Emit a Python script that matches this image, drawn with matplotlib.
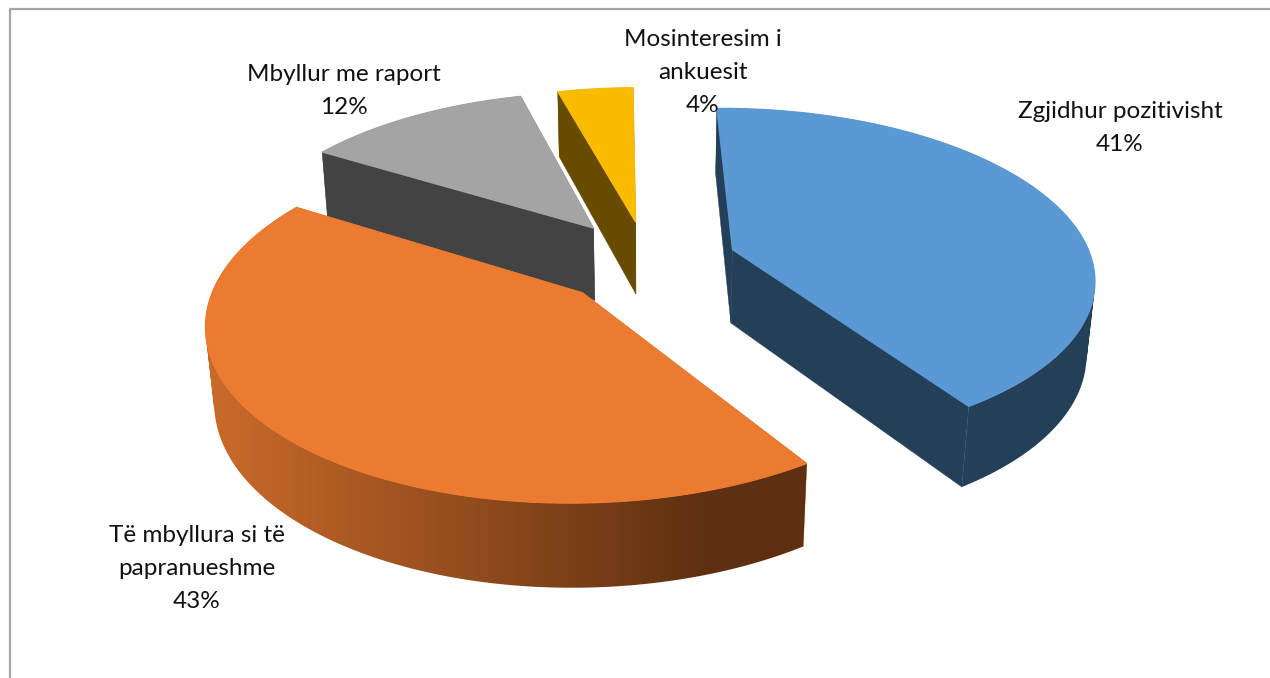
import numpy as np, matplotlib
matplotlib.use('Agg')
import matplotlib.pyplot as plt
from matplotlib.colors import to_rgb
from matplotlib.path import Path
from matplotlib.patches import PathPatch

categories = ['Zgjidhur pozitivisht', 'Të mbyllura si të\npapranueshme', 'Mbyllur me raport', 'Mosinteresim i\nankuesit']
values = [41, 43, 12, 4]
top_colors = ['#5B99D5', '#EA7B30', '#A4A4A4', '#FBBC00']
side_colors = ['#243F58', '#C96A2A', '#434343', '#674C00']
side_dark = '#5E2F11'
label_pos = [(1120, 128), (197, 568.5), (343.5, 91), (703, 72.5)]

CX, CY, F, D, ELEV, H, ROT = 647.65, 261.72, 2048.26, 5.689, 0.482, 0.236, -0.014
EXPLODE = [0.249, 0.252, 0.259, 0.248]

cum = np.concatenate([[0], np.cumsum(values)]) / sum(values) * 2 * np.pi
mid = (cum[:-1] + cum[1:]) / 2


def proj(th, r, z, i):
    X = r * np.sin(th + ROT) + EXPLODE[i] * np.sin(mid[i] + ROT)
    Y = r * np.cos(th + ROT) + EXPLODE[i] * np.cos(mid[i] + ROT)
    Z = -H * z
    d = D + Y * np.cos(ELEV) - Z * np.sin(ELEV)
    return np.column_stack([CX + F * X / d, CY - F * (Y * np.sin(ELEV) + Z * np.cos(ELEV)) / d])


def quads_path(top_pts, bot_pts):
    """Consistently wound side quads, so that their union fills the whole extruded wall."""
    parts = []
    for k in range(len(top_pts) - 1):
        q = np.vstack([top_pts[k], top_pts[k + 1], bot_pts[k + 1], bot_pts[k]])
        x, y = q[:, 0], q[:, 1]
        if np.dot(x, np.roll(y, -1)) - np.dot(y, np.roll(x, -1)) < 0:
            q = q[::-1]
        parts.append(Path(np.vstack([q, q[0]]), closed=True))
    return Path.make_compound_path(*parts)


fig = plt.figure(figsize=(12.7, 6.78), dpi=100)
ax = fig.add_axes([0, 0, 1, 1])

# painted back to front
for z, i in enumerate([3, 2, 0, 1]):
    base = 1 + z
    a = np.linspace(cum[i], cum[i + 1], max(16, int(values[i] * 6)))
    col = side_colors[i]
    t0, b0 = proj(a, 1.0, 0, i), proj(a, 1.0, 1, i)
    for th in (cum[i], cum[i + 1]):
        quad = np.vstack([proj(0.0, 0.0, 0, i), proj(th, 1.0, 0, i), proj(th, 1.0, 1, i), proj(0.0, 0.0, 1, i)])
        ax.fill(quad[:, 0], quad[:, 1], facecolor=col, edgecolor=col, lw=0.3, zorder=base)
    wall = quads_path(t0, b0)
    if i == 1:
        c0, c1 = np.array(to_rgb(side_colors[1])), np.array(to_rgb(side_dark))
        pts = np.vstack([t0, b0])
        x0, x1 = pts[:, 0].min(), pts[:, 0].max()
        xs = np.linspace(x0, x1, 600)
        frac = np.clip((xs - x0 - 10) / 495, 0, 1)[None, :, None]
        img = c0[None, None, :] + (c1 - c0)[None, None, :] * frac
        clip = PathPatch(wall, transform=ax.transData, facecolor='none', edgecolor='none')
        ax.add_patch(clip)
        im = ax.imshow(img, extent=(x0, x1, pts[:, 1].max(), pts[:, 1].min()), aspect='auto', zorder=base + 0.1,
                       interpolation='bilinear')
        im.set_clip_path(clip)
    else:
        ax.add_patch(PathPatch(wall, facecolor=col, edgecolor='none', zorder=base + 0.1))
    top = np.vstack([proj(0.0, 0.0, 0, i), t0])
    ax.fill(top[:, 0], top[:, 1], facecolor=top_colors[i], edgecolor=top_colors[i], lw=0.8, zorder=base + 0.2)

ax.set_xlim(0, 1270)
ax.set_ylim(678, 0)
ax.axis('off')

ax.plot([1270, 9.5, 9.5], [9, 9, 678], color='#A6A6A6', lw=1.6, zorder=8)

for name, v, (x, y) in zip(categories, values, label_pos):
    ax.text(x, y, f'{name}\n{v}%', ha='center', va='center', family=['Lato', 'DejaVu Sans'], fontsize=17.5,
            color='#111111', linespacing=1.72, zorder=9)

fig.savefig('out.png', dpi=100)
